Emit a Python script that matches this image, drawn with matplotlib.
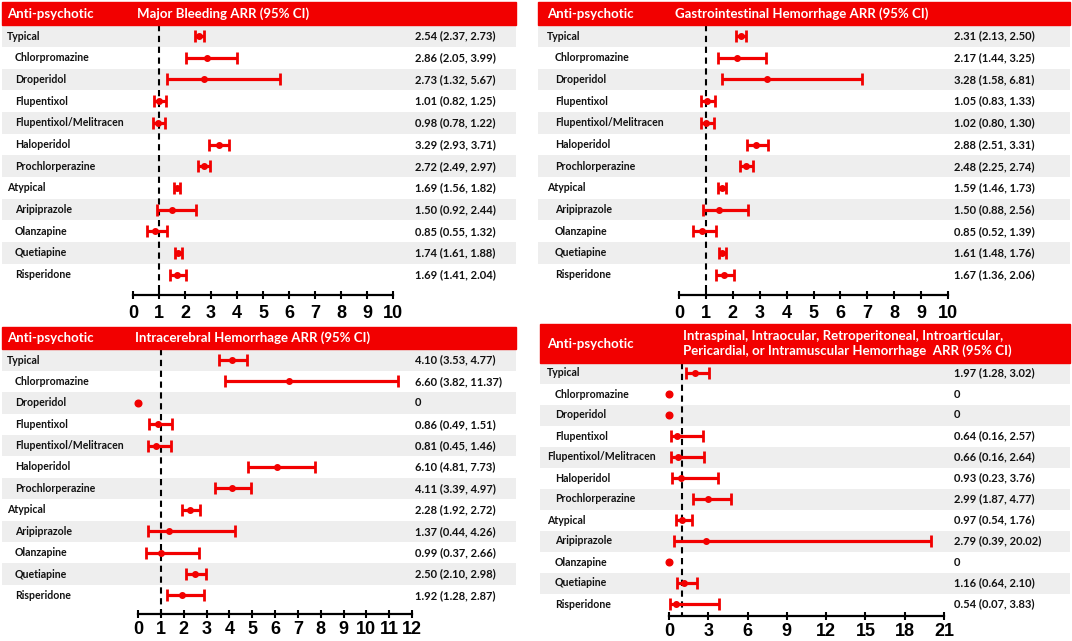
import numpy as np
import matplotlib
matplotlib.use("Agg")
from matplotlib import pyplot as plt
from matplotlib.patches import Rectangle
from matplotlib.transforms import blended_transform_factory

# row labels (same order in every panel)
drugs = ["Typical", "Chlorpromazine", "Droperidol", "Flupentixol",
         "Flupentixol/Melitracen", "Haloperidol", "Prochlorperazine",
         "Atypical", "Aripiprazole", "Olanzapine", "Quetiapine", "Risperidone"]
groups = ["Typical", "Atypical"]

# Major bleeding
mb_est = [2.54, 2.86, 2.73, 1.01, 0.98, 3.29, 2.72, 1.69, 1.50, 0.85, 1.74, 1.69]
mb_lo = [2.37, 2.05, 1.32, 0.82, 0.78, 2.93, 2.49, 1.56, 0.92, 0.55, 1.61, 1.41]
mb_hi = [2.73, 3.99, 5.67, 1.25, 1.22, 3.71, 2.97, 1.82, 2.44, 1.32, 1.88, 2.04]

# Gastrointestinal hemorrhage
gi_est = [2.31, 2.17, 3.28, 1.05, 1.02, 2.88, 2.48, 1.59, 1.50, 0.85, 1.61, 1.67]
gi_lo = [2.13, 1.44, 1.58, 0.83, 0.80, 2.51, 2.25, 1.46, 0.88, 0.52, 1.48, 1.36]
gi_hi = [2.50, 3.25, 6.81, 1.33, 1.30, 3.31, 2.74, 1.73, 2.56, 1.39, 1.76, 2.06]

# Intracerebral hemorrhage (0 = no events)
ich_est = [4.10, 6.60, 0, 0.86, 0.81, 6.10, 4.11, 2.28, 1.37, 0.99, 2.50, 1.92]
ich_lo = [3.53, 3.82, 0, 0.49, 0.45, 4.81, 3.39, 1.92, 0.44, 0.37, 2.10, 1.28]
ich_hi = [4.77, 11.37, 0, 1.51, 1.46, 7.73, 4.97, 2.72, 4.26, 2.66, 2.98, 2.87]

# Intraspinal / intraocular / ... hemorrhage
oth_est = [1.97, 0, 0, 0.64, 0.66, 0.93, 2.99, 0.97, 2.79, 0, 1.16, 0.54]
oth_lo = [1.28, 0, 0, 0.16, 0.16, 0.23, 1.87, 0.54, 0.39, 0, 0.64, 0.07]
oth_hi = [3.02, 0, 0, 2.57, 2.64, 3.76, 4.77, 1.76, 20.02, 0, 2.10, 3.83]

titles = ["Major Bleeding ARR (95% CI)",
          "Gastrointestinal Hemorrhage ARR (95% CI)",
          "Intracerebral Hemorrhage ARR (95% CI)",
          "Intraspinal, Intraocular, Retroperitoneal, Introarticular,\n"
          "Pericardial, or Intramuscular Hemorrhage  ARR (95% CI)"]
xmaxes = [10, 10, 12, 21]
xsteps = [1, 1, 1, 3]

RED = "#f20000"
W, H = 1072, 641

plt.rcParams['font.family'] = ['Lato', 'DejaVu Sans']

fig = plt.figure(figsize=(W / 100, H / 100), dpi=100)

# layout in pixels: left, right, header top, header bottom, first row, row step,
# axis line y, pixel of x=0, pixel of x=max, name x, value x, title x, tick pad
layout = [
    dict(l=2, r=516, ht=2, hb=25, row0=36, step=21.7, axy=295, x0=133, x1=393,
         nx=7, vx=415, tx=137, pad=4),
    dict(l=538, r=1070, ht=2, hb=25, row0=36, step=21.7, axy=295, x0=679, x1=948,
         nx=547, vx=954, tx=675, pad=4),
    dict(l=2, r=516, ht=327, hb=349, row0=360, step=21.4, axy=614, x0=138, x1=412,
         nx=7, vx=415, tx=135, pad=2),
    dict(l=540, r=1070, ht=324, hb=363, row0=373, step=21.0, axy=616, x0=669, x1=944,
         nx=547, vx=954, tx=683, pad=2),
]
# panel 4 has Flupentixol/Melitracen flush left
no_indent = [groups, groups, groups, groups + ["Flupentixol/Melitracen"]]

data = [(mb_est, mb_lo, mb_hi), (gi_est, gi_lo, gi_hi),
        (ich_est, ich_lo, ich_hi), (oth_est, oth_lo, oth_hi)]


def draw_panel(k):
    L = layout[k]
    est, lo, hi = [np.array(a, dtype=float) for a in data[k]]
    xmax = xmaxes[k]
    n = len(drugs)
    rows = np.arange(n)

    ax = fig.add_axes([L['l'] / W, 1 - L['axy'] / H,
                       (L['r'] - L['l']) / W, (L['axy'] - L['hb']) / H])
    s = (L['x1'] - L['x0']) / xmax
    ax.set_xlim((L['l'] - L['x0']) / s, (L['r'] - L['x0']) / s)
    ax.set_ylim((L['axy'] - L['row0']) / L['step'], (L['hb'] - L['row0']) / L['step'])

    # alternating row bands
    for i in rows[::2]:
        ax.axhspan(i - 0.5, i + 0.5, color="#eeeeee", lw=0, zorder=0)

    # reference line at 1
    ax.plot([1, 1], [-0.5, n - 0.2], color="black", lw=1.5,
            ls=(0, (3, 2.2)), zorder=2)

    ok = est > 0
    ax.errorbar(est[ok], rows[ok], xerr=[est[ok] - lo[ok], hi[ok] - est[ok]],
                fmt='o', color=RED, ms=4, elinewidth=2.3, capsize=4,
                capthick=2, zorder=3)
    ax.plot(est[~ok], rows[~ok], 'o', color=RED, ms=4.8, zorder=3)

    # axis
    for side in ["top", "left", "right"]:
        ax.spines[side].set_visible(False)
    ax.spines["bottom"].set_bounds(0, xmax)
    ax.spines["bottom"].set_linewidth(1.6)
    ax.set_yticks([])
    ax.set_xticks(np.arange(0, xmax + 1, xsteps[k]))
    ax.tick_params(axis='x', direction='inout', length=6, width=1.5, pad=L['pad'])
    for t in ax.get_xticklabels():
        t.set_fontfamily('Liberation Sans')
        t.set_fontweight('bold')
        t.set_fontsize(13)
    ax.patch.set_alpha(0)

    # names and values
    tr = blended_transform_factory(fig.transFigure, ax.transData)
    for i, name in enumerate(drugs):
        px = L['nx'] if name in no_indent[k] else L['nx'] + 8
        ax.text(px / W, i, name, transform=tr, fontsize=7.6, fontweight='bold',
                va='center', ha='left', color="#111111")
        if est[i] > 0:
            label = f"{est[i]:.2f} ({lo[i]:.2f}, {hi[i]:.2f})"
        else:
            label = "0"
        ax.text(L['vx'] / W, i, label, transform=tr, fontsize=8,
                fontweight='bold', va='center', ha='left', color="#111111")

    # red header
    fig.patches.append(Rectangle((L['l'] / W, 1 - L['hb'] / H),
                                 (L['r'] - L['l']) / W, (L['hb'] - L['ht']) / H,
                                 transform=fig.transFigure, color=RED, zorder=0))
    yc = 1 - (L['ht'] + L['hb']) / 2 / H
    fig.text(L['nx'] / W, yc, "Anti-psychotic", color="white", fontsize=9.5,
             fontweight='bold', va='center', ha='left')
    fig.text(L['tx'] / W, yc, titles[k], color="white", fontsize=9.5,
             fontweight='bold', va='center', ha='left', linespacing=1.2)


for k in range(4):
    draw_panel(k)

plt.savefig("out.png", dpi=100)
